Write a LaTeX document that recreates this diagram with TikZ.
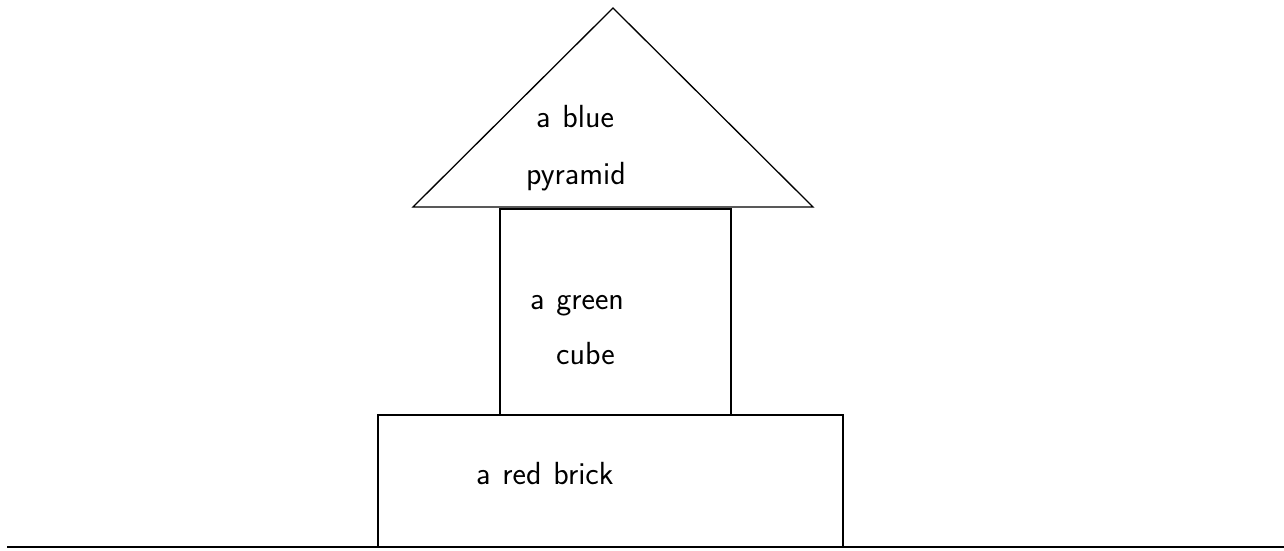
\documentclass[tikz,border=0pt]{standalone}
\newcommand{\lblfont}{\sffamily\fontsize{32}{38}\selectfont\spaceskip=11.8pt plus 2pt minus 2pt\relax}
\begin{document}
\begin{tikzpicture}[x=1pt,y=-1pt,
  thickline/.style={line width=2.8pt, line cap=butt},
  thinline/.style={line width=1.3pt, line join=miter},
  lbl/.style={anchor=base west, inner sep=0pt, font=\lblfont}]
\useasboundingbox (0,0) rectangle (1284,550);
% ground
\coordinate (g1) at (7,547);
\coordinate (g2) at (1284,547);
\draw[thickline] (g1) -- (g2);
% brick
\draw[thickline] (378,547) -- (378,415) -- (843,415) -- (843,547);
% cube
\draw[thickline] (500,415) rectangle (731,209);
% pyramid
\draw[thinline] (413,207) -- (613,8) -- (813,207) -- cycle;
% labels
\node[lbl] (p1) at (536,127) {a blue};
\node[lbl] (p2) at (526,184) {pyramid};
\node[lbl] (c1) at (530,309) {a green};
\node[lbl] (c2) at (556,364) {cube};
\node[lbl] (b1) at (476,484) {a red brick};
\end{tikzpicture}
\end{document}
